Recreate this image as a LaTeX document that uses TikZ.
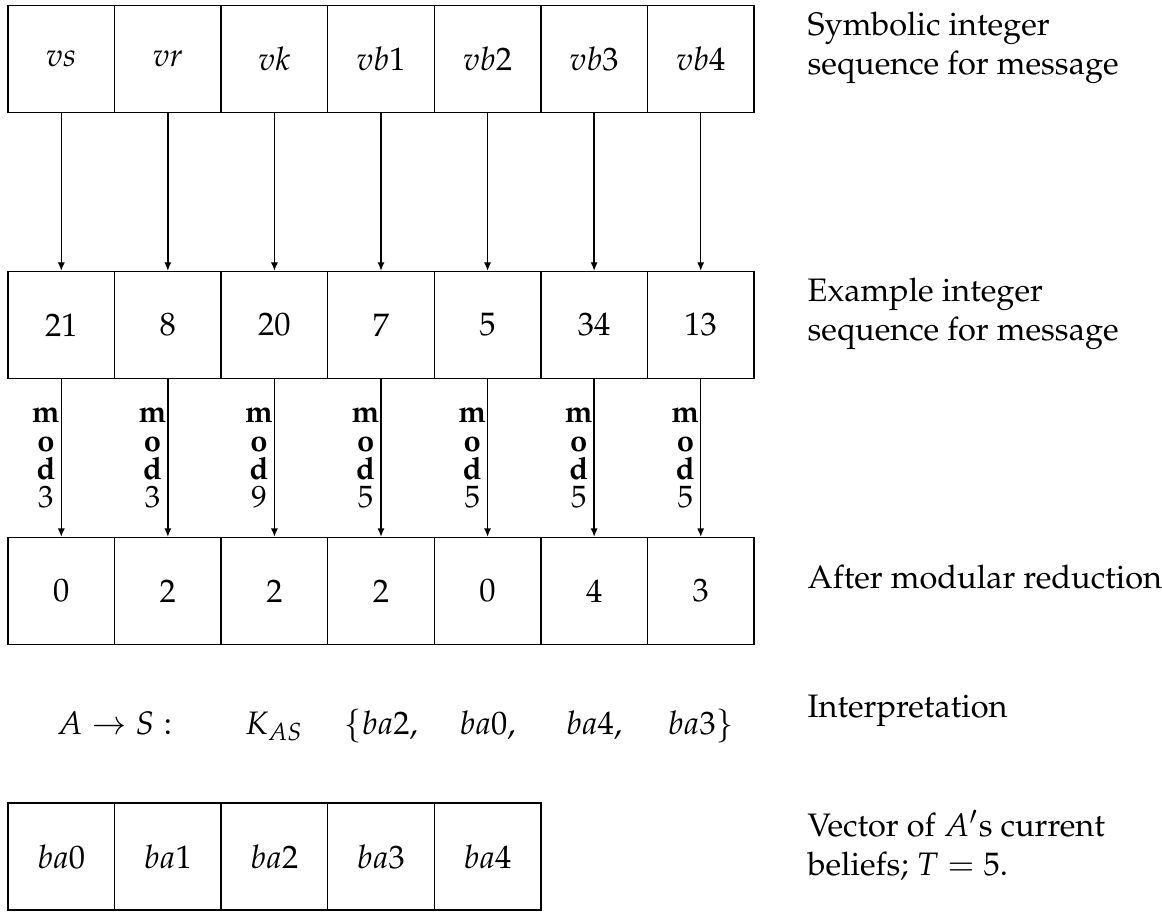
\documentclass[tikz,border=0pt]{standalone}
\usepackage[T1]{fontenc}
\usepackage{mathpazo}
\usetikzlibrary{arrows.meta}
\tikzset{
  cell/.style={draw, line width=0.45pt, minimum width=32.79pt, minimum height=32.9pt, inner sep=0pt, font=\fontsize{10}{12}\selectfont},
  conn/.style={-{Latex[length=2.6pt,width=2.2pt]}, line width=0.4pt},
  modlab/.style={left, inner sep=0.3pt, align=center, font=\fontsize{9.5}{8.7}\selectfont},
  note/.style={align=left, inner sep=0pt, font=\fontsize{10}{12}\selectfont},
  interp/.style={anchor=base, inner sep=0pt, font=\fontsize{10}{12}\selectfont},
}
\begin{document}
\begin{tikzpicture}[x=0.30769pt, y=-0.30769pt]
\useasboundingbox (0,0) rectangle (1162,913);
% row 1: symbolic sequence
\foreach \t [count=\i] in {vs,vr,vk,vb1,vb2,vb3,vb4}
  \node[cell] (a\i) at ({8+106.57*(\i-0.5)},59) {$\t$};
% row 2: example integers
\foreach \t [count=\i] in {21,8,20,7,5,34,13}
  \node[cell] (b\i) at ({8+106.57*(\i-0.5)},325) {\t};
% row 3: reduced values
\foreach \t [count=\i] in {0,2,2,2,0,4,3}
  \node[cell] (c\i) at ({8+106.57*(\i-0.5)},591) {\t};
% arrows row1 -> row2
\foreach \i in {1,...,7}
  \draw[conn] (a\i.south) -- (b\i.north);
% arrows row2 -> row3 with mod labels
\foreach \i/\m in {1/3,2/3,3/9,4/5,5/5,6/5,7/5}
  \draw[conn] (b\i.south) -- node[modlab] {\textbf{m}\\\textbf{o}\\\textbf{d}\\\m} (c\i.north);
% interpretation row
\node[interp] (i1) at (114.6,734) {$A \rightarrow S:$};
\node[interp] (i2) at (274.4,734) {$K_{AS}$};
\node[interp] (i3) at (381.0,734) {$\{ba2,$};
\node[interp] (i4) at (487.6,734) {$ba0,$};
\node[interp] (i5) at (594.1,734) {$ba4,$};
\node[interp] (i6) at (700.7,734) {$ba3\}$};
% beliefs vector
\foreach \t [count=\i] in {ba0,ba1,ba2,ba3,ba4}
  \node[cell] (d\i) at ({8+106.57*(\i-0.5)},856.5) {$\t$};
% right-hand notes
\node[note, anchor=north west] (n1) at (807,11) {Symbolic integer\\sequence for message};
\node[note, anchor=north west] (n2) at (807,277) {Example integer\\sequence for message};
\node[note, anchor=base west] (n3) at (807,589) {After modular reduction};
\node[note, anchor=base west] (n4) at (807,717) {Interpretation};
\node[note, anchor=north west] (n5) at (807,810) {Vector of $A'$s current\\beliefs; $T = 5$.};
\end{tikzpicture}
\end{document}
